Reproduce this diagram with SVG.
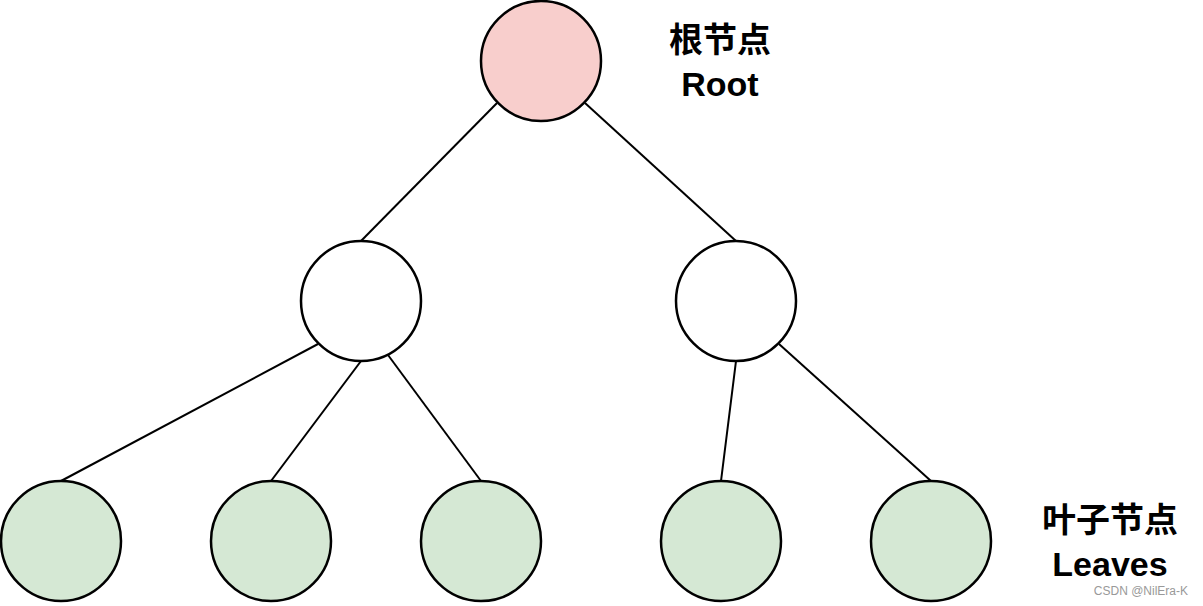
<svg xmlns="http://www.w3.org/2000/svg" width="1203" height="606" viewBox="0 0 1203 606">
<style>
.n{stroke:#000;stroke-width:2.5}
.e{stroke:#000;stroke-width:2;fill:none}
.t{font-family:"Liberation Sans","Noto Sans CJK SC",sans-serif;font-weight:bold;font-size:34px;text-anchor:middle}
.w{font-family:"Liberation Sans",sans-serif;font-size:12px;fill:#999;text-anchor:end}
</style>
<rect width="1203" height="606" fill="#fff"/>
<g id="connectors">
<line class="e" x1="497" y1="103" x2="361" y2="241"/>
<line class="e" x1="585" y1="103" x2="736" y2="241"/>
<line class="e" x1="318" y1="344" x2="61" y2="481"/>
<line class="e" x1="361" y1="361" x2="271" y2="481"/>
<line class="e" x1="388" y1="355" x2="481" y2="481"/>
<line class="e" x1="736" y1="361" x2="721" y2="481"/>
<line class="e" x1="779" y1="344" x2="931" y2="481"/>
</g>
<g id="root"><circle class="n" cx="541" cy="61" r="60" fill="#f8cecc"/></g>
<g id="midL"><circle class="n" cx="361" cy="301" r="60" fill="#fff"/></g>
<g id="midR"><circle class="n" cx="736" cy="301" r="60" fill="#fff"/></g>
<g id="leaf1"><circle class="n" cx="61" cy="541" r="60" fill="#d5e8d4"/></g>
<g id="leaf2"><circle class="n" cx="271" cy="541" r="60" fill="#d5e8d4"/></g>
<g id="leaf3"><circle class="n" cx="481" cy="541" r="60" fill="#d5e8d4"/></g>
<g id="leaf4"><circle class="n" cx="721" cy="541" r="60" fill="#d5e8d4"/></g>
<g id="leaf5"><circle class="n" cx="931" cy="541" r="60" fill="#d5e8d4"/></g>
<g id="rootLabel"><text class="t" x="720" y="52">根节点</text><text class="t" x="720" y="96">Root</text></g>
<g id="leavesLabel"><text class="t" x="1110" y="532">叶子节点</text><text class="t" x="1110" y="576">Leaves</text></g>
<text class="w" x="1188" y="595">CSDN @NilEra-K</text>
</svg>
